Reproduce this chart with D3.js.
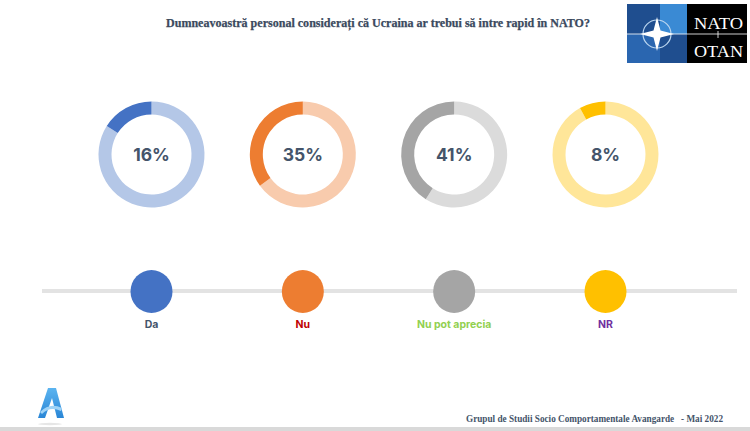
<!DOCTYPE html>
<html><head><meta charset="utf-8">
<script src="https://cdn.jsdelivr.net/npm/d3@7/dist/d3.min.js"></script>
<style>html,body{margin:0;padding:0;background:#fff;overflow:hidden}</style>
</head><body><svg id="c" width="750" height="431"></svg>
<script>
const categories = ["Da", "Nu", "Nu pot aprecia", "NR"];
const values = [16, 35, 41, 8];
const darkColors = ["#4472c4", "#ed7d31", "#a5a5a5", "#ffc000"];
const lightColors = ["#b4c7e7", "#f8cbad", "#dbdbdb", "#ffe699"];
const labelColors = ["#44546a", "#c00000", "#92d050", "#7030a0"];
const title = "Dumneavoastră personal considerați că Ucraina ar trebui să intre rapid în NATO?";
const footer = "Grupul de Studii Socio Comportamentale Avangarde   - Mai 2022";

const svg = d3.select("#c");
const x = d3.scalePoint().domain(categories).range([151.5, 605.5]);
const ang = d3.scaleLinear().domain([0, 100]).range([0, -2 * Math.PI]);
const arc = d3.arc().innerRadius(40).outerRadius(53);
const cy = 154.5;

// title
svg.append("text").attr("x", 378).attr("y", 27).attr("text-anchor", "middle")
  .attr("font-family", "Liberation Serif, DejaVu Serif, serif").attr("font-weight", "bold")
  .attr("font-size", 12).attr("fill", "#3b4a5e").attr("stroke", "#3b4a5e").attr("stroke-width", 0.25)
  .attr("textLength", 424).attr("lengthAdjust", "spacingAndGlyphs")
  .text(title);

// donuts
const g = svg.selectAll("g.donut").data(categories).enter().append("g")
  .attr("class", "donut").attr("transform", d => `translate(${x(d)},${cy})`);
g.append("path").attr("d", (d, i) => arc({startAngle: ang(values[i]), endAngle: ang(100)}))
  .attr("fill", (d, i) => lightColors[i]);
g.append("path").attr("d", (d, i) => arc({startAngle: ang(0), endAngle: ang(values[i])}))
  .attr("fill", (d, i) => darkColors[i]);
g.append("text").attr("text-anchor", "middle").attr("y", 6.5)
  .attr("font-family", "Inter, Roboto, sans-serif").attr("font-weight", "bold")
  .attr("font-size", 17.5).attr("fill", "#44546a")
  .text((d, i) => values[i] + "%");

// legend
svg.append("line").attr("x1", 42).attr("x2", 737).attr("y1", 291).attr("y2", 291)
  .attr("stroke", "#e3e3e3").attr("stroke-width", 4);
svg.selectAll("ellipse.leg").data(categories).enter().append("ellipse")
  .attr("class", "leg").attr("cx", d => x(d)).attr("cy", 291.5).attr("rx", 21).attr("ry", 21.5)
  .attr("fill", (d, i) => darkColors[i]);
svg.selectAll("text.leg").data(categories).enter().append("text")
  .attr("class", "leg").attr("x", d => x(d)).attr("y", 328).attr("text-anchor", "middle")
  .attr("font-family", "Inter, Roboto, sans-serif").attr("font-weight", "bold")
  .attr("font-size", 10.5).attr("fill", (d, i) => labelColors[i]).text(d => d);

// NATO logo
const L = svg.append("g");
L.append("rect").attr("x", 627).attr("y", 4).attr("width", 120).attr("height", 59).attr("fill", "#000");
L.append("rect").attr("x", 627).attr("y", 4).attr("width", 60).attr("height", 59).attr("fill", "#1f4e8f");
L.append("rect").attr("x", 660).attr("y", 4).attr("width", 27).attr("height", 30).attr("fill", "#3a8ad4");
L.append("rect").attr("x", 627).attr("y", 34).attr("width", 33).attr("height", 29).attr("fill", "#2a66b0");
L.append("line").attr("x1", 627).attr("x2", 747).attr("y1", 34).attr("y2", 34).attr("stroke", "#fff").attr("stroke-width", 0.8);
L.append("circle").attr("cx", 657).attr("cy", 34).attr("r", 14).attr("fill", "none").attr("stroke", "#bcd7f0").attr("stroke-width", 1.2);
const sx = 657, sy = 34, R = 17, r = 3.5;
L.append("path").attr("d", `M${sx},${sy-R} L${sx+r},${sy-r} L${sx+R},${sy} L${sx+r},${sy+r} L${sx},${sy+R} L${sx-r},${sy+r} L${sx-R},${sy} L${sx-r},${sy-r} Z`)
  .attr("fill", "#fff");
L.append("text").attr("x", 694).attr("y", 29).attr("fill", "#fff")
  .attr("font-family", "Liberation Serif, serif").attr("font-size", 17)
  .attr("textLength", 49).attr("lengthAdjust", "spacingAndGlyphs").text("NATO");
L.append("text").attr("x", 694).attr("y", 57).attr("fill", "#fff")
  .attr("font-family", "Liberation Serif, serif").attr("font-size", 17)
  .attr("textLength", 49).attr("lengthAdjust", "spacingAndGlyphs").text("OTAN");
L.append("line").attr("x1", 718).attr("x2", 718).attr("y1", 31).attr("y2", 38).attr("stroke", "#fff").attr("stroke-width", 0.8);

// A logo
const grad = svg.append("defs").append("linearGradient").attr("id", "ag").attr("x1", 0).attr("y1", 0).attr("x2", 0).attr("y2", 1);
grad.append("stop").attr("offset", 0).attr("stop-color", "#5bb4f0");
grad.append("stop").attr("offset", 1).attr("stop-color", "#2a86d6");
svg.append("path").attr("d", "M48,388 L56,388 L64,418 L57,418 L52,398 L45,418 L38,418 Z").attr("fill", "url(#ag)");
svg.append("path").attr("d", "M40,412 Q50,402 62,408 L61,411 Q50,406 42,414 Z").attr("fill", "#9fd3f7");
svg.append("ellipse").attr("cx", 50).attr("cy", 424).attr("rx", 12).attr("ry", 1.2).attr("fill", "#e6e6e6");

// footer
svg.append("rect").attr("x", 0).attr("y", 427).attr("width", 750).attr("height", 4).attr("fill", "#d9d9d9");
svg.append("text").attr("x", 466).attr("y", 422).attr("font-family", "Liberation Serif, serif")
  .attr("font-weight", "bold").attr("font-size", 9.5).attr("fill", "#44546a")
  .attr("textLength", 257).attr("lengthAdjust", "spacingAndGlyphs").attr("xml:space", "preserve").text(footer);
</script></body></html>
